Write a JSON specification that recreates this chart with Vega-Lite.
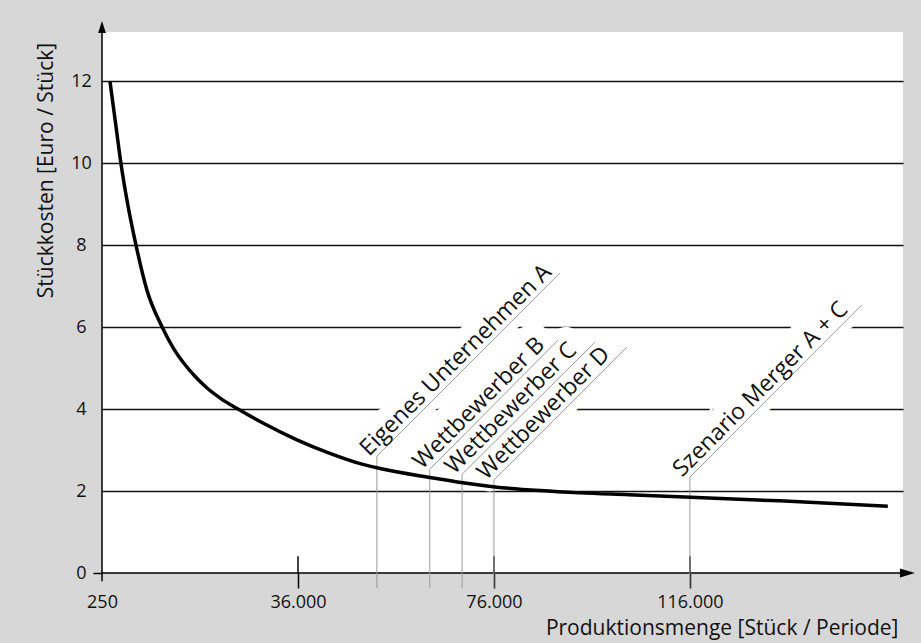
{
  "$schema": "https://vega.github.io/schema/vega-lite/v6.json",
  "width": 801,
  "height": 541,
  "autosize": "none",
  "padding": {"left": 102, "top": 32, "right": 18, "bottom": 70},
  "background": "#d7d7d7",
  "config": {
    "view": {"fill": "white", "stroke": null},
    "font": "Open Sans",
    "text": {"font": "Open Sans"}
  },
  "datasets": {
    "curve": [
      {"x": 1700, "y": 12.0}, {"x": 2700, "y": 11.0}, {"x": 3700, "y": 10.0},
      {"x": 4800, "y": 9.1}, {"x": 6450, "y": 8.0}, {"x": 8450, "y": 6.9},
      {"x": 11150, "y": 6.02}, {"x": 13200, "y": 5.5}, {"x": 15400, "y": 5.08},
      {"x": 17200, "y": 4.8}, {"x": 19350, "y": 4.52}, {"x": 22000, "y": 4.25},
      {"x": 25050, "y": 4.0}, {"x": 29600, "y": 3.66}, {"x": 35800, "y": 3.25},
      {"x": 42500, "y": 2.92}, {"x": 49250, "y": 2.65}, {"x": 52750, "y": 2.55},
      {"x": 62950, "y": 2.33}, {"x": 69650, "y": 2.2}, {"x": 76200, "y": 2.1},
      {"x": 85400, "y": 2.01}, {"x": 93550, "y": 1.955}, {"x": 103500, "y": 1.91},
      {"x": 116200, "y": 1.85}, {"x": 134350, "y": 1.76}, {"x": 156400, "y": 1.63}
    ],
    "annot": [
      {"name": "Eigenes Unternehmen A", "seq": 1, "x": 52100, "y": -0.37},
      {"name": "Eigenes Unternehmen A", "seq": 2, "x": 52100, "y": 2.85},
      {"name": "Eigenes Unternehmen A", "seq": 3, "x": 89470, "y": 7.32},
      {"name": "Wettbewerber B", "seq": 1, "x": 62900, "y": -0.37},
      {"name": "Wettbewerber B", "seq": 2, "x": 62900, "y": 2.53},
      {"name": "Wettbewerber B", "seq": 3, "x": 89060, "y": 5.68},
      {"name": "Wettbewerber C", "seq": 1, "x": 69500, "y": -0.37},
      {"name": "Wettbewerber C", "seq": 2, "x": 69500, "y": 2.41},
      {"name": "Wettbewerber C", "seq": 3, "x": 96600, "y": 5.63},
      {"name": "Wettbewerber D", "seq": 1, "x": 76000, "y": -0.37},
      {"name": "Wettbewerber D", "seq": 2, "x": 76000, "y": 2.27},
      {"name": "Wettbewerber D", "seq": 3, "x": 103150, "y": 5.51},
      {"name": "Szenario Merger A + C", "seq": 1, "x": 116000, "y": -0.37},
      {"name": "Szenario Merger A + C", "seq": 2, "x": 116000, "y": 2.34},
      {"name": "Szenario Merger A + C", "seq": 3, "x": 151100, "y": 6.54}
    ],
    "labels": [
      {"name": "Eigenes Unternehmen A", "x": 52100, "y": 2.85},
      {"name": "Wettbewerber B", "x": 62900, "y": 2.53},
      {"name": "Wettbewerber C", "x": 69500, "y": 2.41},
      {"name": "Wettbewerber D", "x": 76000, "y": 2.27},
      {"name": "Szenario Merger A + C", "x": 116000, "y": 2.34}
    ],
    "axislines": [
      {"x": 250, "x2": 160000, "y": 0, "y2": 0},
      {"x": 250, "x2": 250, "y": -0.2, "y2": 13.3},
      {"x": 36000, "x2": 36000, "y": 0, "y2": 0.41},
      {"x": 76000, "x2": 76000, "y": 0, "y2": 0.41},
      {"x": 116000, "x2": 116000, "y": 0, "y2": 0.41}
    ]
  },
  "encoding": {
    "x": {
      "field": "x", "type": "quantitative",
      "scale": {"domain": [250, 36000, 159500], "range": [0, 196, 801], "nice": false, "zero": false},
      "axis": {
        "zindex": 0,
        "values": [250, 36000, 76000, 116000],
        "labelExpr": "datum.value == 250 ? '250' : replace(format(datum.value, ','), ',', '.')",
        "grid": false,
        "domain": false,
        "ticks": true,
        "tickSize": 15,
        "tickWidth": 1.5,
        "tickColor": "black",
        "tickOpacity": {"condition": {"test": "datum.value == 250", "value": 0}, "value": 1},
        "labelFont": "Open Sans",
        "labelFontSize": 18,
        "labelColor": "#111",
        "labelPadding": 5,
        "labelBaseline": "top",
        "labelFlush": false,
        "labelOverlap": false,
        "title": "Produktionsmenge [Stück / Periode]",
        "titleFont": "Open Sans",
        "titleFontSize": 21,
        "titleFontWeight": "normal",
        "titleColor": "#111",
        "titleAnchor": "end",
        "titleAlign": "right",
        "titleBaseline": "alphabetic",
        "titleX": 796,
        "titleY": 61
      }
    },
    "y": {
      "field": "y", "type": "quantitative",
      "scale": {"domain": [0, 13.2], "nice": false, "zero": true},
      "axis": {
        "zindex": 0,
        "values": [0, 2, 4, 6, 8, 10, 12],
        "grid": true,
        "gridColor": "#111",
        "gridWidth": 1.3,
        "gridOpacity": {"condition": {"test": "datum.value == 0", "value": 0}, "value": 1},
        "domain": false,
        "ticks": true,
        "tickSize": 9,
        "tickWidth": 1.5,
        "tickColor": "black",
        "tickOpacity": {"condition": {"test": "datum.value == 0", "value": 1}, "value": 0},
        "labelFont": "Open Sans",
        "labelFontSize": 18,
        "labelColor": "#111",
        "labelAlign": "center",
        "labelBaseline": "middle",
        "labelPadding": 12,
        "labelOverlap": false,
        "title": "Stückkosten [Euro / Stück]",
        "titleFont": "Open Sans",
        "titleFontSize": 21,
        "titleFontWeight": "normal",
        "titleColor": "#111",
        "titleAngle": -90,
        "titleAlign": "center",
        "titleBaseline": "alphabetic",
        "titleX": -50,
        "titleY": 138
      }
    }
  },
  "layer": [
    {
      "data": {"name": "labels"},
      "mark": {"type": "text", "angle": 315, "align": "left", "baseline": "alphabetic", "dx": -6, "dy": -5, "fontSize": 23, "font": "Open Sans", "fill": "#ffffff", "stroke": "#ffffff", "strokeWidth": 28, "strokeJoin": "round", "strokeOpacity": 1},
      "encoding": {"text": {"field": "name"}}
    },
    {
      "data": {"name": "axislines"},
      "mark": {"type": "rule", "color": "black", "strokeWidth": 1.5},
      "encoding": {"x2": {"field": "x2"}, "y2": {"field": "y2"}}
    },
    {
      "data": {"values": [{"x": 250, "y": 13.32}]},
      "mark": {"type": "point", "shape": "M0,-1L0.65,1L-0.65,1Z", "size": 144, "filled": true, "color": "black", "opacity": 1}
    },
    {
      "data": {"values": [{"x": 160400, "y": 0}]},
      "mark": {"type": "point", "shape": "M1,0L-1,-0.6L-1,0.6Z", "size": 225, "filled": true, "color": "black", "opacity": 1}
    },
    {
      "data": {"name": "annot"},
      "mark": {"type": "line", "color": "#9a9a9a", "strokeWidth": 1},
      "encoding": {"detail": {"field": "name"}, "order": {"field": "seq"}}
    },
    {
      "data": {"name": "curve"},
      "mark": {"type": "line", "color": "black", "strokeWidth": 3.5, "interpolate": "monotone"}
    },
    {
      "data": {"name": "labels"},
      "mark": {"type": "text", "angle": 315, "align": "left", "baseline": "alphabetic", "dx": -6, "dy": -5, "fontSize": 23, "font": "Open Sans", "color": "#111"},
      "encoding": {"text": {"field": "name"}}
    }
  ]
}
